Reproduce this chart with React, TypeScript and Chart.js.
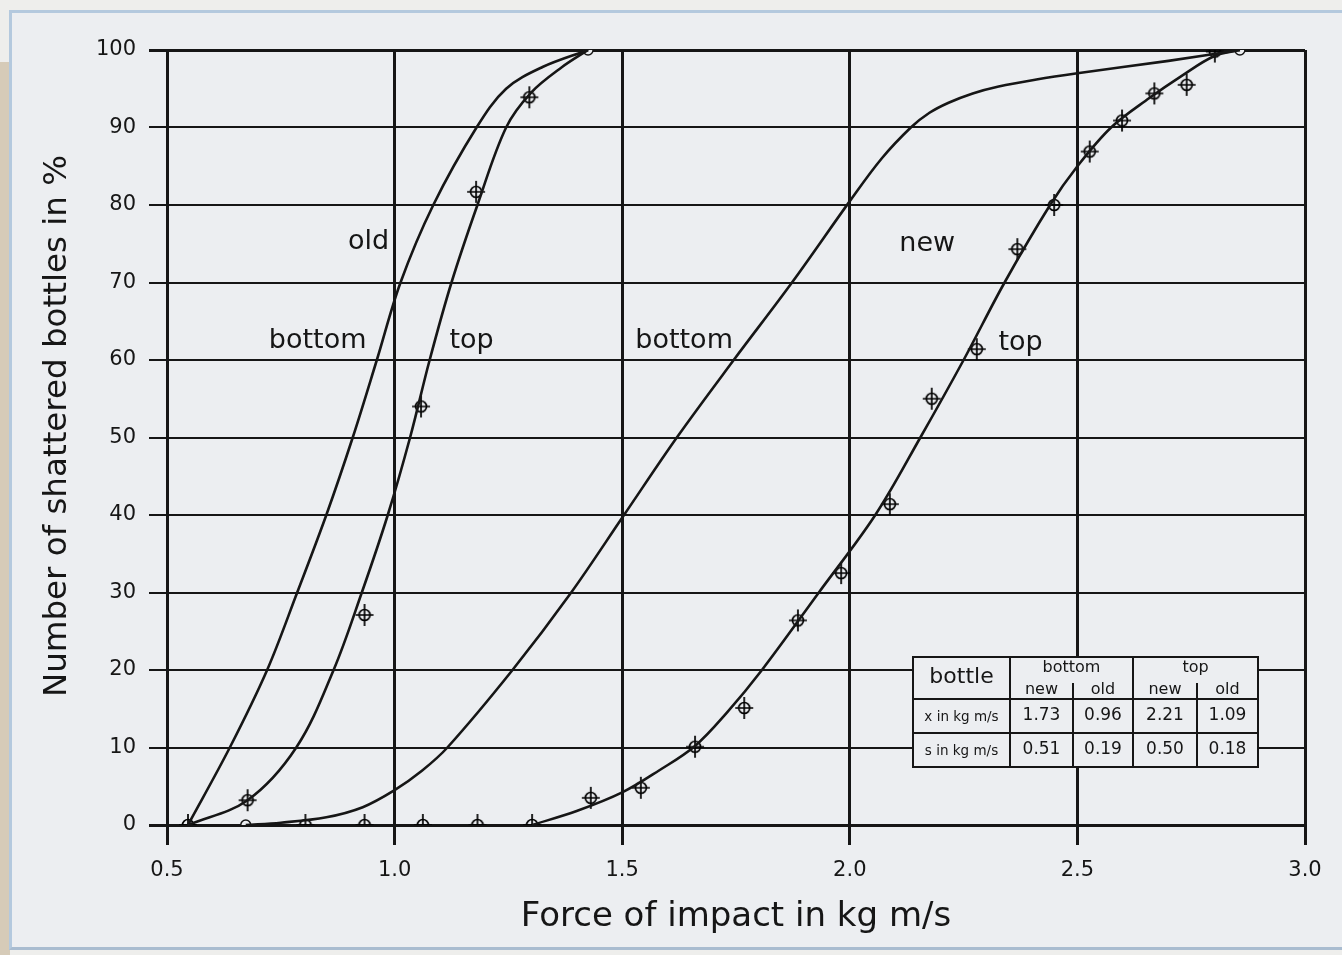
import React, { useEffect, useRef } from "react";
import { Chart, registerables } from "chart.js";

Chart.register(...registerables);

// ---------- data ----------
const xTickLabels = ["0.5", "1.0", "1.5", "2.0", "2.5", "3.0"];
const yTickLabels = ["0", "10", "20", "30", "40", "50", "60", "70", "80", "90", "100"];

// fitted curves (force in kg m/s, % shattered)
const bottomOldX = [0.546, 0.638, 0.72, 0.786, 0.85, 0.908, 0.961, 1.013, 1.085, 1.18, 1.245, 1.325, 1.425];
const bottomOldY = [0, 10, 20, 30, 40, 50, 60, 70, 80, 90, 95, 97.8, 100];

const topOldX = [0.546, 0.677, 0.784, 0.866, 0.928, 0.985, 1.034, 1.077, 1.125, 1.182, 1.245, 1.3, 1.368, 1.425];
const topOldY = [0, 3.2, 10, 20, 30, 40, 50, 60, 70, 80, 90, 94.5, 97.8, 100];

const bottomNewX = [0.673, 0.75, 0.85, 0.93, 1.0, 1.06, 1.116, 1.259, 1.388, 1.504, 1.62, 1.745, 1.873, 2.0, 2.07, 2.134, 2.175, 2.217, 2.27, 2.327, 2.41, 2.5, 2.7, 2.857];
const bottomNewY = [0, 0.3, 1.0, 2.3, 4.5, 7, 10, 20, 30, 40, 50, 60, 70, 80.5, 86, 90, 91.9, 93.2, 94.4, 95.3, 96.2, 97, 98.6, 100];

const topNewX = [1.302, 1.4, 1.5, 1.58, 1.66, 1.73, 1.807, 1.932, 2.056, 2.155, 2.25, 2.34, 2.44, 2.5, 2.574, 2.658, 2.73, 2.8, 2.857];
const topNewY = [0, 1.8, 4.2, 7, 10.2, 14.5, 20, 30, 40, 50, 60, 70, 80, 85, 90, 93.8, 96.7, 99.2, 100];

// measured points (crossed circles)
const topOldPtsX = [0.546, 0.677, 0.934, 1.058, 1.179, 1.296];
const topOldPtsY = [0, 3.2, 27.1, 54, 81.7, 93.9];

const topNewPtsX = [0.804, 0.934, 1.062, 1.182, 1.302, 1.431, 1.541, 1.66, 1.768, 1.886, 1.981, 2.088, 2.18, 2.279, 2.368, 2.449, 2.527, 2.598, 2.669, 2.74, 2.802];
const topNewPtsY = [0, 0, 0, 0, 0, 3.5, 4.8, 10.1, 15.1, 26.4, 32.5, 41.4, 55, 61.4, 74.3, 80, 86.9, 90.9, 94.4, 95.5, 99.8];

// open circles (curve ends)
const openPtsX = [0.673, 1.425, 2.857];
const openPtsY = [0, 100, 100];

// curve labels
const labelTexts = ["old", "bottom", "top", "bottom", "new", "top"];
const labelX = [0.943, 0.831, 1.169, 1.636, 2.17, 2.375];
const labelY = [75.2, 62.5, 62.5, 62.5, 75, 62.2];

// inset table
const tableGroups = ["bottom", "top"];
const tableSub = ["new", "old", "new", "old"];
const meanValues = ["1.73", "0.96", "2.21", "1.09"];
const sdValues = ["0.51", "0.19", "0.50", "0.18"];

const xTitle = "Force of impact in kg m/s";
const yTitle = "Number of shattered bottles in %";

// ---------- styling ----------
const FONT = "'DejaVu Sans', 'Liberation Sans', sans-serif";
const INK = "#161616";
const PAPER = "#eceef1";

const zip = (xs: number[], ys: number[]) => xs.map((x, i) => ({ x, y: ys[i] }));

function makeMarker(): HTMLCanvasElement {
  const c = document.createElement("canvas");
  c.width = 24;
  c.height = 26;
  const g = c.getContext("2d")!;
  g.strokeStyle = "#000";
  g.lineWidth = 1.7;
  g.beginPath();
  g.arc(12, 13, 5.5, 0, Math.PI * 2);
  g.stroke();
  g.beginPath();
  g.moveTo(3, 13);
  g.lineTo(21, 13);
  g.moveTo(12, 2);
  g.lineTo(12, 24);
  g.stroke();
  return c;
}

const annotationPlugin = {
  id: "annotations",
  afterDatasetsDraw(chart: any) {
    const ctx: CanvasRenderingContext2D = chart.ctx;
    const xs = chart.scales.x;
    const ys = chart.scales.y;
    ctx.save();
    // y axis title
    ctx.save();
    ctx.translate(58, 426);
    ctx.rotate(-Math.PI / 2);
    ctx.fillStyle = INK;
    ctx.font = `32.5px ${FONT}`;
    ctx.textAlign = "center";
    ctx.textBaseline = "middle";
    ctx.fillText(yTitle, 0, 0);
    ctx.restore();

    // curve labels
    ctx.fillStyle = INK;
    ctx.font = `27px ${FONT}`;
    ctx.textAlign = "center";
    ctx.textBaseline = "middle";
    labelTexts.forEach((t, i) => {
      ctx.fillText(t, xs.getPixelForValue(labelX[i]), ys.getPixelForValue(labelY[i]));
    });

    // table
    const L = 913, T = 657, R = 1258, B = 767;
    const cols = [913, 1010, 1073, 1133, 1197, 1258];
    const rowH = 699, rowM = 733;
    ctx.fillStyle = PAPER;
    ctx.fillRect(L, T, R - L, B - T);
    ctx.strokeStyle = INK;
    ctx.lineWidth = 2;
    ctx.strokeRect(L, T, R - L, B - T);
    ctx.beginPath();
    ctx.moveTo(L, rowH); ctx.lineTo(R, rowH);
    ctx.moveTo(L, rowM); ctx.lineTo(R, rowM);
    ctx.moveTo(cols[1], T); ctx.lineTo(cols[1], B);
    ctx.moveTo(cols[3], T); ctx.lineTo(cols[3], B);
    ctx.moveTo(cols[2], 683); ctx.lineTo(cols[2], B);
    ctx.moveTo(cols[4], 683); ctx.lineTo(cols[4], B);
    ctx.stroke();

    ctx.fillStyle = INK;
    ctx.textAlign = "center";
    ctx.textBaseline = "middle";
    ctx.font = `22px ${FONT}`;
    ctx.fillText("bottle", (cols[0] + cols[1]) / 2, 677);
    ctx.font = `16px ${FONT}`;
    ctx.fillText(tableGroups[0], (cols[1] + cols[3]) / 2, 668);
    ctx.fillText(tableGroups[1], (cols[3] + cols[5]) / 2, 668);
    tableSub.forEach((t, i) => {
      ctx.fillText(t, (cols[i + 1] + cols[i + 2]) / 2, 690);
    });
    ctx.font = `13.5px ${FONT}`;
    ctx.fillText("x in kg m/s", (cols[0] + cols[1]) / 2, 717);
    ctx.fillText("s in kg m/s", (cols[0] + cols[1]) / 2, 751);
    ctx.font = `17px ${FONT}`;
    meanValues.forEach((t, i) => {
      ctx.fillText(t, (cols[i + 1] + cols[i + 2]) / 2, 716);
    });
    sdValues.forEach((t, i) => {
      ctx.fillText(t, (cols[i + 1] + cols[i + 2]) / 2, 750);
    });
    ctx.restore();
  },
};

export default function App() {
  const ref = useRef<HTMLCanvasElement | null>(null);

  useEffect(() => {
    if (!ref.current) return;
    const marker = makeMarker();
    const curve = (xs: number[], ys: number[]) => ({
      data: zip(xs, ys),
      showLine: true,
      borderColor: INK,
      borderWidth: 2.6,
      pointRadius: 0,
      fill: false,
      tension: 0.35,
    });
    const pts = (xs: number[], ys: number[]) => ({
      data: zip(xs, ys),
      showLine: false,
      pointStyle: marker,
      pointRadius: 10,
    });
    const chart = new Chart(ref.current, {
      type: "scatter",
      data: {
        datasets: [
          curve(bottomOldX, bottomOldY),
          curve(topOldX, topOldY),
          curve(bottomNewX, bottomNewY),
          curve(topNewX, topNewY),
          pts(topOldPtsX, topOldPtsY),
          pts(topNewPtsX, topNewPtsY),
          {
            data: zip(openPtsX, openPtsY),
            showLine: false,
            pointStyle: "circle",
            pointRadius: 5,
            borderColor: INK,
            borderWidth: 1.5,
            backgroundColor: PAPER,
          },
        ] as any,
      },
      options: {
        responsive: false,
        animation: false,
        events: [],
        layout: { padding: { top: 50, right: 37, left: 0, bottom: 0 } },
        plugins: { legend: { display: false }, tooltip: { enabled: false } },
        scales: {
          x: {
            type: "linear",
            min: 0.5,
            max: 3.0,
            afterFit: (s: any) => {
              s.height = 130;
            },
            afterBuildTicks: (s: any) => {
              s.ticks = xTickLabels.map((t) => ({ value: parseFloat(t) }));
            },
            ticks: {
              callback: (v: any) => xTickLabels.find((t) => parseFloat(t) === Number(v)) ?? "",
              font: { family: FONT, size: 21 },
              color: INK,
              padding: 13,
              maxRotation: 0,
            },
            grid: { color: INK, lineWidth: 3, tickLength: 20, tickColor: INK, tickWidth: 3 },
            border: { display: false },
            title: {
              display: true,
              text: xTitle,
              font: { family: FONT, size: 34 },
              color: INK,
              padding: { top: 0, bottom: 17 },
            },
          },
          y: {
            type: "linear",
            min: 0,
            max: 100,
            afterFit: (s: any) => {
              s.width = 167;
            },
            afterBuildTicks: (s: any) => {
              s.ticks = yTickLabels.map((t) => ({ value: parseFloat(t) }));
            },
            ticks: {
              callback: (v: any) => yTickLabels.find((t) => parseFloat(t) === Number(v)) ?? "",
              font: { family: FONT, size: 21 },
              color: INK,
              padding: 13,
            },
            grid: {
              color: INK,
              lineWidth: (c: any) => (c.tick && (c.tick.value === 0 || c.tick.value === 100) ? 3 : 2),
              tickLength: 18,
              tickColor: INK,
            },
            border: { display: false },
            title: { display: false },
          },
        },
      },
      plugins: [annotationPlugin],
    });
    return () => chart.destroy();
  }, []);

  return (
    <div style={{ position: "fixed", left: 0, top: 0, width: 1342, height: 955, background: "#eeeeec", overflow: "hidden" }}>
      <div style={{ position: "absolute", left: 0, top: 62, width: 10, height: 893, background: "#d6cbb8" }} />
      <div
        style={{
          position: "absolute",
          left: 9,
          top: 10,
          width: 1333,
          height: 940,
          boxSizing: "border-box",
          borderTop: "3px solid #b4c9de",
          borderLeft: "3px solid #b4c9de",
          borderBottom: "3px solid #a9bcd0",
          background: PAPER,
        }}
      />
      <canvas ref={ref} width={1342} height={955} style={{ position: "absolute", left: 0, top: 0, width: 1342, height: 955 }} />
    </div>
  );
}
